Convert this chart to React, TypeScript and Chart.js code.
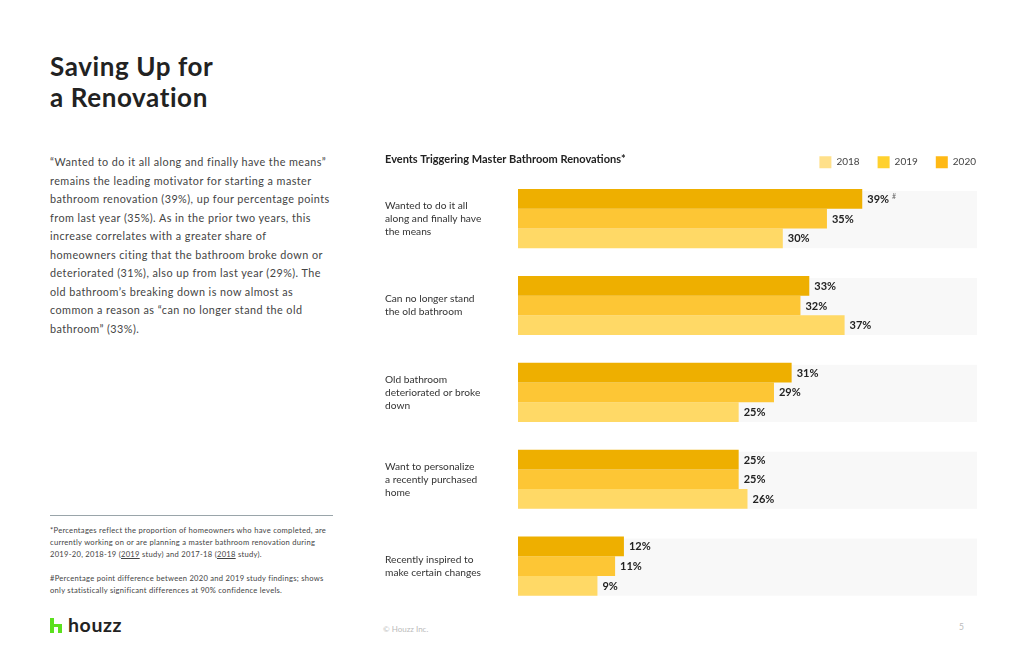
import React, { useEffect, useRef } from "react";
import { Chart, registerables } from "chart.js";

Chart.register(...registerables);

const categories: string[][] = [
  ["Wanted to do it all", "along and finally have", "the means"],
  ["Can no longer stand", "the old bathroom"],
  ["Old bathroom", "deteriorated or broke", "down"],
  ["Want to personalize", "a recently purchased", "home"],
  ["Recently inspired to", "make certain changes"],
];
const values2020 = [39, 33, 31, 25, 12];
const values2019 = [35, 32, 29, 25, 11];
const values2018 = [30, 37, 25, 26, 9];
const notes2020 = ["#", "", "", "", ""];
const seriesNames = ["2020", "2019", "2018"];
const barColors = ["#EEAF00", "#FDC635", "#FFD966"];
const legendColors: Record<string, string> = { "2018": "#FFE08A", "2019": "#FFD12E", "2020": "#FFB915" };
const legendOrder = ["2018", "2019", "2020"];
const chartTitle = "Events Triggering Master Bathroom Renovations*";

const FONT = "Lato, 'Open Sans', sans-serif";

const bandPlugin = {
  id: "bands",
  beforeDatasetsDraw(chart: any) {
    const { ctx, chartArea } = chart;
    const n = chart.data.labels.length;
    ctx.save();
    ctx.fillStyle = "#F8F8F8";
    for (let i = 0; i < n; i++) {
      let top = Infinity;
      let bottom = -Infinity;
      chart.data.datasets.forEach((_: any, di: number) => {
        const el = chart.getDatasetMeta(di).data[i];
        if (!el) return;
        const p = el.getProps(["y", "height"], true);
        top = Math.min(top, p.y - p.height / 2);
        bottom = Math.max(bottom, p.y + p.height / 2);
      });
      ctx.fillRect(chartArea.left, top + 2, chartArea.right - chartArea.left, bottom - top - 2);
    }
    ctx.restore();
  },
};

const legendShiftPlugin = {
  id: "legendShift",
  beforeDraw(chart: any) {
    const lg = chart.legend;
    if (lg && !lg._shifted) {
      lg.left += 17;
      lg.right += 17;
      lg.top += 3;
      lg.bottom += 3;
      lg._shifted = true;
    }
  },
};

const valueLabelPlugin = {
  id: "valueLabels",
  afterDatasetsDraw(chart: any) {
    const { ctx } = chart;
    ctx.save();
    ctx.textBaseline = "middle";
    chart.data.datasets.forEach((ds: any, di: number) => {
      const meta = chart.getDatasetMeta(di);
      meta.data.forEach((el: any, i: number) => {
        const p = el.getProps(["x", "y"], true);
        const txt = ds.data[i] + "%";
        ctx.font = `bold 11px ${FONT}`;
        ctx.fillStyle = "#222";
        ctx.textAlign = "left";
        const x = p.x + 5;
        ctx.fillText(txt, x, p.y + 0.5);
        const note = ds.notes ? ds.notes[i] : "";
        if (note) {
          const w = ctx.measureText(txt).width;
          ctx.font = `7px ${FONT}`;
          ctx.fillStyle = "#666";
          ctx.fillText(note, x + w + 3, p.y - 2);
        }
      });
    });
    ctx.restore();
  },
};

function BarChart() {
  const ref = useRef<HTMLCanvasElement | null>(null);
  useEffect(() => {
    if (!ref.current) return;
    const data = [values2020, values2019, values2018];
    const chart = new Chart(ref.current, {
      type: "bar",
      data: {
        labels: categories as any,
        datasets: seriesNames.map((name, k) => ({
          label: name,
          data: data[k],
          backgroundColor: barColors[k],
          borderWidth: 0,
          categoryPercentage: 0.68,
          barPercentage: 1.0,
          notes: k === 0 ? notes2020 : undefined,
        })) as any,
      },
      options: {
        indexAxis: "y",
        animation: false,
        responsive: true,
        maintainAspectRatio: false,
        layout: { padding: { left: 5, right: 8, top: 5, bottom: 9 } },
        plugins: {
          title: {
            display: true,
            text: chartTitle,
            align: "start",
            color: "#222",
            font: { family: FONT, size: 11, weight: "bold" },
            padding: { top: 18, bottom: -31 },
          },
          legend: {
            display: true,
            position: "top",
            align: "end",
            onClick: () => {},
            labels: {
              boxWidth: 12,
              boxHeight: 12,
              padding: 18,
              color: "#444",
              font: { family: FONT, size: 10 },
              generateLabels: () =>
                legendOrder.map((y) => ({
                  text: y,
                  fillStyle: legendColors[y],
                  strokeStyle: legendColors[y],
                  lineWidth: 0,
                  fontColor: "#444",
                  hidden: false,
                })) as any,
            },
          },
          tooltip: { enabled: false },
        },
        scales: {
          x: { display: false, min: 0, max: 52, grid: { display: false } },
          y: {
            grid: { display: false },
            border: { display: false },
            afterFit: (scale: any) => {
              scale.width = 133;
            },
            ticks: {
              crossAlign: "far",
              color: "#333",
              padding: 0,
              font: { family: FONT, size: 10.2, lineHeight: 1.27 },
            },
          },
        },
      },
      plugins: [bandPlugin, valueLabelPlugin, legendShiftPlugin],
    });
    return () => chart.destroy();
  }, []);
  return <canvas ref={ref} />;
}

export default function App() {
  const body = [
    "\u201cWanted to do it all along and finally have the means\u201d",
    "remains the leading motivator for starting a master",
    "bathroom renovation (39%), up four percentage points",
    "from last year (35%). As in the prior two years, this",
    "increase correlates with a greater share of",
    "homeowners citing that the bathroom broke down or",
    "deteriorated (31%), also up from last year (29%). The",
    "old bathroom\u2019s breaking down is now almost as",
    "common a reason as \u201ccan no longer stand the old",
    "bathroom\u201d (33%).",
  ];
  return (
    <div
      style={{
        position: "absolute",
        left: 0,
        top: 0,
        width: 1024,
        height: 663,
        background: "#fff",
        fontFamily: FONT,
        overflow: "hidden",
      }}
    >
      <div
        style={{
          position: "absolute",
          left: 50,
          top: 51,
          fontSize: 26,
          fontWeight: 700,
          lineHeight: "31px",
          color: "#222",
          letterSpacing: 0.6,
        }}
      >
        Saving Up for
        <br />a Renovation
      </div>
      <div
        style={{
          position: "absolute",
          left: 50,
          top: 153,
          fontSize: 10.8,
          lineHeight: "18.5px",
          color: "#444",
          whiteSpace: "nowrap",
          letterSpacing: 0.45,
        }}
      >
        {body.map((l, i) => (
          <div key={i}>{l}</div>
        ))}
      </div>
      <div style={{ position: "absolute", left: 50, top: 515, width: 283, height: 1, background: "#9AA5AA" }} />
      <div
        style={{
          position: "absolute",
          left: 50,
          top: 524,
          fontSize: 7.6,
          lineHeight: "12px",
          color: "#444",
          whiteSpace: "nowrap",
          letterSpacing: 0.27,
        }}
      >
        <div>*Percentages reflect the proportion of homeowners who have completed, are</div>
        <div>currently working on or are planning a master bathroom renovation during</div>
        <div>
          2019-20, 2018-19 (<span style={{ textDecoration: "underline" }}>2019</span> study) and 2017-18 (
          <span style={{ textDecoration: "underline" }}>2018</span> study).
        </div>
        <div style={{ height: 12 }} />
        <div>#Percentage point difference between 2020 and 2019 study findings; shows</div>
        <div>only statistically significant differences at 90% confidence levels.</div>
      </div>
      {/* logo */}
      <div style={{ position: "absolute", left: 50, top: 618, width: 4, height: 15, background: "#5BE01E" }} />
      <div style={{ position: "absolute", left: 54, top: 624, width: 8, height: 3, background: "#5BE01E" }} />
      <div style={{ position: "absolute", left: 58, top: 624, width: 4, height: 9, background: "#5BE01E" }} />
      <div
        style={{
          position: "absolute",
          left: 68,
          top: 614,
          fontSize: 19.5,
          fontWeight: 700,
          color: "#222",
          lineHeight: "22px",
          letterSpacing: 0.6,
        }}
      >
        houzz
      </div>
      <div style={{ position: "absolute", left: 383, top: 624, fontSize: 8, color: "#BBB" }}>© Houzz Inc.</div>
      <div style={{ position: "absolute", left: 959, top: 622, fontSize: 8.5, color: "#BBB" }}>5</div>
      <div style={{ position: "absolute", left: 380, top: 130, width: 605, height: 499 }}>
        <BarChart />
      </div>
    </div>
  );
}
